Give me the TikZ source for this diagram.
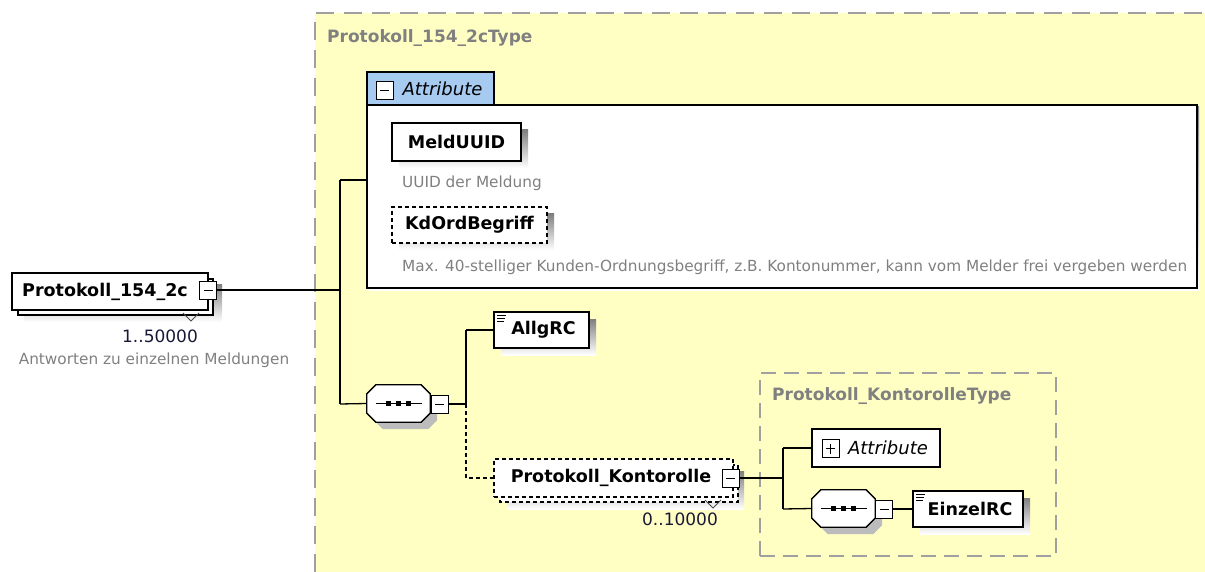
\documentclass[tikz,border=0pt]{standalone}
\usepackage{fontspec}
\setmainfont{DejaVu Sans}
\definecolor{typefill}{RGB}{255,255,196}
\definecolor{tabblue}{RGB}{166,202,240}
\definecolor{shade}{RGB}{188,188,188}
\definecolor{dashgray}{RGB}{160,160,160}
\definecolor{desc}{RGB}{128,128,128}
\definecolor{occ}{RGB}{25,25,55}
\tikzset{
  namefont/.style={font=\fontsize{17.5}{20}\selectfont\bfseries},
  elembox/.style={draw=black, fill=white, line width=1.3pt, inner sep=0pt, namefont},
  optbox/.style={elembox, dash pattern=on 4pt off 3pt},
  minusbox/.style={draw=black, fill=white, line width=1pt, minimum width=17, minimum height=18, inner sep=0pt,
    path picture={\draw[line width=1pt] ([xshift=4pt]path picture bounding box.west) -- ([xshift=-4pt]path picture bounding box.east);}},
  plusbox/.style={minusbox,
    path picture={\draw[line width=1pt] ([xshift=4pt]path picture bounding box.west) -- ([xshift=-4pt]path picture bounding box.east);
                  \draw[line width=1pt] ([yshift=-4pt]path picture bounding box.north) -- ([yshift=4pt]path picture bounding box.south);}},
  seqframe/.style={minimum width=63, minimum height=37, inner sep=0pt},
  seqline/.style={draw=black, fill=white, line width=1.3pt},
  conn/.style={line width=1.3pt, draw=black},
  optconn/.style={conn, dash pattern=on 4pt off 3pt},
  descfont/.style={font=\fontsize{15.3}{18}\selectfont, text=desc},
  occfont/.style={font=\fontsize{17}{20}\selectfont, text=occ},
  typetitle/.style={font=\fontsize{17}{20}\selectfont\bfseries, text=desc, anchor=west, inner sep=0pt},
  attrfont/.style={font=\fontsize{18}{21}\selectfont\itshape},
}
\newcommand{\octa}[2]{%
  \path[#2] ([xshift=9pt]#1.north west) -- ([xshift=-9pt]#1.north east) -- ([yshift=-9pt]#1.north east) -- ([yshift=9pt]#1.south east) -- ([xshift=-9pt]#1.south east) -- ([xshift=9pt]#1.south west) -- ([yshift=9pt]#1.south west) -- ([yshift=-9pt]#1.north west) -- cycle;}
\newcommand{\seqdots}[1]{%
  \draw[line width=1.2pt] ([xshift=-23pt]#1.center) -- ([xshift=23pt]#1.center);
  \fill ([xshift=-10pt]#1.center) ++(-2.3,-2.3) rectangle ++(4.6,4.6);
  \fill (#1.center) ++(-2.3,-2.3) rectangle ++(4.6,4.6);
  \fill ([xshift=10pt]#1.center) ++(-2.3,-2.3) rectangle ++(4.6,4.6);}
\newcommand{\listicon}[1]{%
  \draw[line width=1pt] ([xshift=4pt,yshift=-4pt]#1.north west) -- ++(9,0);
  \draw[line width=1pt] ([xshift=4pt,yshift=-7pt]#1.north west) -- ++(8,0);
  \draw[line width=1pt] ([xshift=4pt,yshift=-10pt]#1.north west) -- ++(7,0);}
\begin{document}
\begin{tikzpicture}[x=1pt,y=-1pt]
\useasboundingbox (0,0) rectangle (1205,572);
% outer type area
\fill[typefill] (315,13) rectangle (1205,572);
\draw[dashgray, line width=2pt, dash pattern=on 18pt off 10pt] (315,572) -- (315,13) -- (1205,13);
\node[typetitle] (t1title) at (327,38) {Protokoll\_154\_2cType};

% root element
\fill[shade] (24,284) rectangle (222,322);
\draw[line width=1.2pt, fill=white] (18,279) rectangle (213,315);
\node[elembox, minimum width=196, minimum height=37] (root) at (110,291.5) {Protokoll\_154\_2c\hspace*{10pt}};
\draw[line width=1pt, draw=black!70] (183,313) -- (191,321) -- (199,313);
\node[minusbox] (rootm) at (208,290) {};
\node[occfont] (occ1) at (160,336) {1..50000};
\node[descfont] (d0) at (154,360) {Antworten zu einzelnen Meldungen};

% attribute group
\fill[shade] (369,107) rectangle (1199,290);
\node[draw=black, fill=white, line width=1.3pt, minimum width=830, minimum height=183, inner sep=0pt] (attrbox) at (782,196.5) {};
\node[draw=black, fill=tabblue, line width=1.3pt, minimum width=127, minimum height=33, inner sep=0pt, attrfont] (attrtab) at (430.5,88.5) {\hspace*{24pt}Attribute};
\node[minusbox] (attrm) at (384.5,90.5) {};

\fill[shade] (399,130) rectangle (528,168);
\node[elembox, minimum width=129, minimum height=38] (meld) at (456.5,142) {MeldUUID};
\node[descfont, anchor=west, inner sep=0pt] (d1) at (402,183) {UUID der Meldung};
\fill[shade] (399,214) rectangle (554,250);
\node[optbox, minimum width=155, minimum height=36] (kdord) at (469.5,225) {KdOrdBegriff};
\node[descfont, anchor=west, inner sep=0pt] (d2) at (402,267) {Max. 40-stelliger Kunden-Ordnungsbegriff, z.B. Kontonummer, kann vom Melder frei vergeben werden};

% junction 1
\coordinate (j1) at (340,290);
\coordinate (j1t) at (340,180);
\coordinate (j1b) at (340,404);
\draw[conn] (rootm.east) -- (j1);
\draw[conn] (j1t) -- (j1b);
\draw[conn] (j1t) -- (j1t -| attrbox.west);

% sequence 1
\node[seqframe] (seq1s) at (405.5,410.5) {};
\node[seqframe] (seq1) at (398.5,403.5) {};
\octa{seq1s}{fill=shade}
\octa{seq1}{seqline}
\seqdots{seq1}
\node[minusbox] (seq1m) at (439.5,404) {};
\draw[conn] (j1b) -- (seq1.west);
\coordinate (j2) at (466,404);
\coordinate (j2t) at (466,330);
\coordinate (j2b) at (466,478);
\draw[conn] (seq1m.east) -- (j2);
\draw[conn] (j2) -- (j2t);

% AllgRC
\fill[shade] (501,319) rectangle (596,355);
\node[elembox, minimum width=95, minimum height=36] (allg) at (541.5,330) {\hspace*{4pt}AllgRC};
\listicon{allg}
\draw[conn] (j2t) -- (allg.west);

% Protokoll_Kontorolle
\fill[shade] (507,471) rectangle (744,509);
\draw[line width=1.3pt, fill=white, dash pattern=on 4pt off 3pt] (500,465) rectangle (738,502);
\node[optbox, minimum width=239, minimum height=38] (kont) at (613.5,478) {Protokoll\_Kontorolle\hspace*{5pt}};
\draw[line width=1pt, draw=black!70] (705,500) -- (713,508) -- (721,500);
\node[minusbox] (kontm) at (730.5,478) {};
\node[occfont] (occ2) at (680,519) {0..10000};
\draw[optconn] (j2) -- (j2b) -- (kont.west);

% inner type
\node[draw=dashgray, line width=1.6pt, dash pattern=on 15pt off 8pt, minimum width=296, minimum height=183, inner sep=0pt] (t2) at (908,464.5) {};
\node[typetitle] (t2title) at (772,396) {Protokoll\_KontorolleType};

\coordinate (j3) at (783,478);
\coordinate (j3t) at (783,448);
\coordinate (j3b) at (783,509);
\draw[conn] (kontm.east) -- (j3);
\draw[conn] (j3t) -- (j3b);

\node[draw=black, fill=white, line width=1.3pt, minimum width=128, minimum height=38, inner sep=0pt, attrfont] (attr2) at (876,448) {\hspace*{24pt}Attribute};
\node[plusbox] (attr2p) at (830.5,448.5) {};
\draw[conn] (j3t) -- (attr2.west);

\node[seqframe] (seq2s) at (850.5,515.5) {};
\node[seqframe] (seq2) at (843.5,508.5) {};
\octa{seq2s}{fill=shade}
\octa{seq2}{seqline}
\seqdots{seq2}
\node[minusbox] (seq2m) at (884,509) {};
\draw[conn] (j3b) -- (seq2.west);

\fill[shade] (920,498) rectangle (1030,534);
\node[elembox, minimum width=110, minimum height=36] (einzel) at (968,509) {\hspace*{4pt}EinzelRC};
\listicon{einzel}
\draw[conn] (seq2m.east) -- (einzel.west);
\end{tikzpicture}
\end{document}
